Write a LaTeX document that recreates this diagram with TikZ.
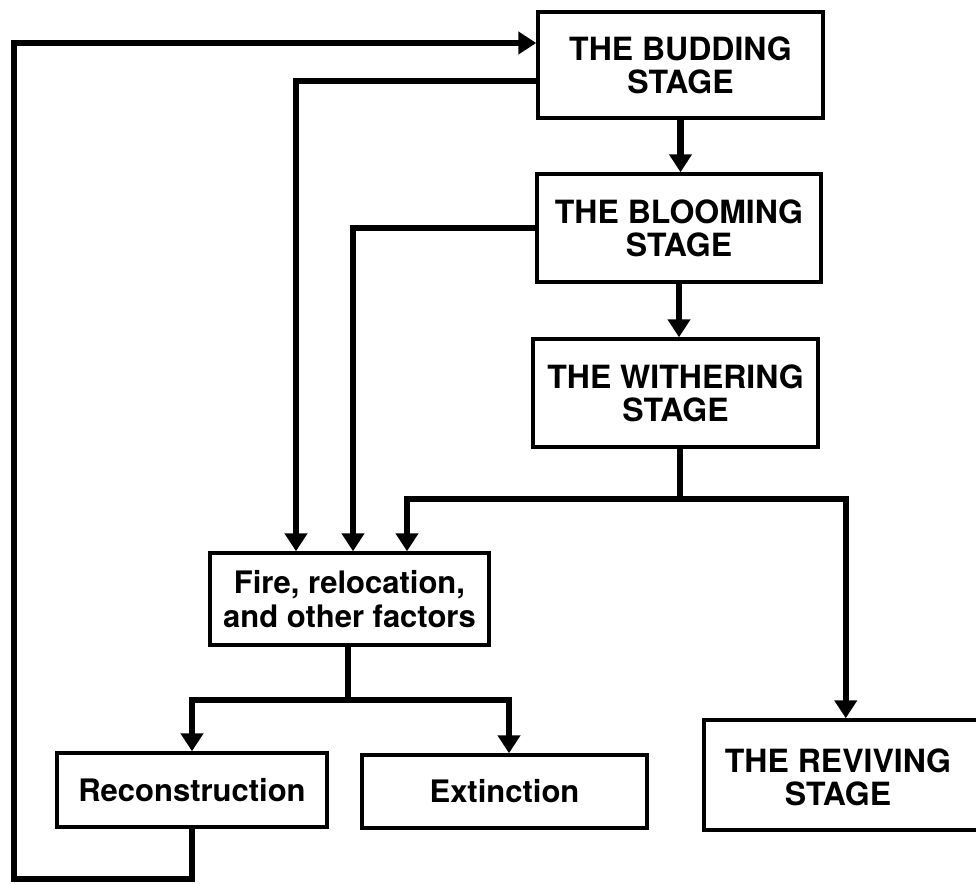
\documentclass[tikz,border=0pt]{standalone}
\usepackage{fontspec}
\setmainfont{TeX Gyre Heros}
\usetikzlibrary{arrows.meta}
\tikzset{
  stage/.style={
    rectangle,
    draw=black,
    line width=3.5pt,
    fill=white,
    align=center,
    inner sep=0pt,
    font=\bfseries\fontsize{32}{33}\selectfont
  },
  factor/.style={
    rectangle,
    draw=black,
    line width=3.5pt,
    fill=white,
    align=center,
    inner sep=0pt,
    font=\bfseries\fontsize{31}{34}\selectfont
  },
  stagetext/.style={align=center,inner sep=0pt,font=\bfseries\fontsize{32}{33}\selectfont},
  link/.style={line width=6.5pt,draw=black},
  arrow/.style={-{Triangle[width=22pt,length=18pt]},line width=6.5pt,draw=black}
}

\begin{document}
\begin{tikzpicture}[x=1pt,y=-1pt]
    \useasboundingbox (0,0) rectangle (976,883);
    \clip (0,0) rectangle (976,883);

    % the four stages
    \node[stage,minimum width=285pt,minimum height=106pt] (bud) at (680.5,65) {THE BUDDING\\STAGE};
    \node[stage,minimum width=284pt,minimum height=108pt] (bloom) at (679,228) {THE BLOOMING\\STAGE};
    \node[stage,minimum width=285pt,minimum height=108pt] (wither) at (675.5,393) {THE WITHERING\\STAGE};
    \node[stage,minimum width=296pt,minimum height=110pt,anchor=west] (revive) at (702,775) {};
    \node[stagetext] (revivetext) at (838,777) {THE REVIVING\\STAGE};

    % what may happen
    \node[factor,minimum width=279pt,minimum height=92pt] (fire) at (349.5,599) {Fire, relocation,\\and other factors};
    \node[factor,minimum width=270pt,minimum height=74pt] (recon) at (192,790) {Reconstruction};
    \node[factor,minimum width=285pt,minimum height=73pt] (extinct) at (504.5,791.5) {Extinction};

    \coordinate (wsplit) at (680,499);
    \coordinate (fsplit) at (348,700);
    \coordinate (loopcorner) at (14,879);

    \draw[arrow] (bud.south) -- (bud.south |- bloom.north);
    \draw[arrow] (bloom.south) -- (bloom.south |- wither.north);
    \draw[link] (wither.south -| wsplit) -- (wsplit);
    \draw[arrow] (wsplit) -| ([xshift=57.5pt]fire.north);
    \draw[arrow] (wsplit) -| ([xshift=-6pt]revive.north);

    \draw[arrow] ([yshift=-16pt]bud.west) -| ([xshift=-53.5pt]fire.north);
    \draw[arrow] (bloom.west) -| ([xshift=3.5pt]fire.north);

    \draw[link] (fire.south -| fsplit) -- (fsplit);
    \draw[arrow] (fsplit) -| (recon.north);
    \draw[arrow] (fsplit) -| ([xshift=4.5pt]extinct.north);

    \draw[arrow] (recon.south) |- (loopcorner) |- ([yshift=22pt]bud.west);
  \end{tikzpicture}
\end{document}
